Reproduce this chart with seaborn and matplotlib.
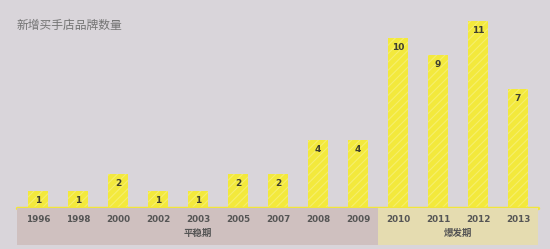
import matplotlib
matplotlib.use("Agg")
import matplotlib.pyplot as plt
import seaborn as sns
import pandas as pd

years = ["1996", "1998", "2000", "2002", "2003", "2005", "2007", "2008", "2009",
         "2010", "2011", "2012", "2013"]
counts = [1, 1, 2, 1, 1, 2, 2, 4, 4, 10, 9, 11, 7]
title = "新增买手店品牌数量"
period_names = ["平稳期", "爆发期"]
period_spans = [(0, 8), (9, 12)]  # index ranges (inclusive)

sns.set_theme(style="white")
plt.rcParams['font.family'] = ['Noto Sans CJK SC', 'DejaVu Sans']

BG = "#d9d5da"
BAR = "#f3e93c"
HATCH = "#f6ef6e"
BAND_COLORS = ["#cfc0bf", "#e5dcb0"]
TXT = "#555555"

W, H = 550, 249
fig = plt.figure(figsize=(W / 100, H / 100), dpi=100, facecolor=BG)

def fx(px):
    return px / W

def fy(py):
    return 1 - py / H

left_px, right_px = 17, 538
base_px, top_px = 208, 10
ax = fig.add_axes([fx(left_px), fy(base_px), fx(right_px - left_px), (base_px - top_px) / H])
ax.set_facecolor(BG)

df = pd.DataFrame({"year": years, "count": counts})
plt.rcParams['hatch.linewidth'] = 0.8
sns.barplot(data=df, x="year", y="count", ax=ax, color=BAR, width=0.5,
            saturation=1, edgecolor=HATCH, linewidth=0, hatch="////")

ax.set_xlim(-0.525, 12.5)
ax.set_ylim(0, 198 / 17)
ax.axhline(0, color="#f2e63a", lw=2.5, zorder=5, clip_on=False)
for sp in ax.spines.values():
    sp.set_visible(False)
ax.set_xticks([])
ax.set_yticks([])
ax.set_xlabel("")
ax.set_ylabel("")

for i, c in enumerate(counts):
    ax.annotate(str(c), (i, c), xytext=(0, -7), textcoords="offset points",
                ha="center", va="center", fontsize=6.5, fontweight="bold",
                color="#3e3e30", family="DejaVu Sans")

# band below
band_ax = fig.add_axes([fx(left_px), fy(245), fx(right_px - left_px), (245 - base_px) / H])
band_ax.set_xlim(ax.get_xlim())
band_ax.set_ylim(0, 1)
band_ax.axis("off")
for (a, b), name, col in zip(period_spans, period_names, BAND_COLORS):
    lo = a - 0.5 if a > 0 else -0.525
    band_ax.axvspan(lo, b + 0.5, color=col, lw=0)
    band_ax.text((a + b) / 2, 0.32, name, ha="center", va="center",
                 fontsize=6.8, fontweight="bold", color=TXT)
for i, y in enumerate(years):
    band_ax.text(i, 0.7, y, ha="center", va="center", fontsize=6.3,
                 fontweight="bold", color=TXT, family="DejaVu Sans")

fig.text(fx(17), fy(25), title, ha="left", va="center", fontsize=8.5,
         color="#747474", style="italic")

fig.savefig("out.png", dpi=100, facecolor=BG)
